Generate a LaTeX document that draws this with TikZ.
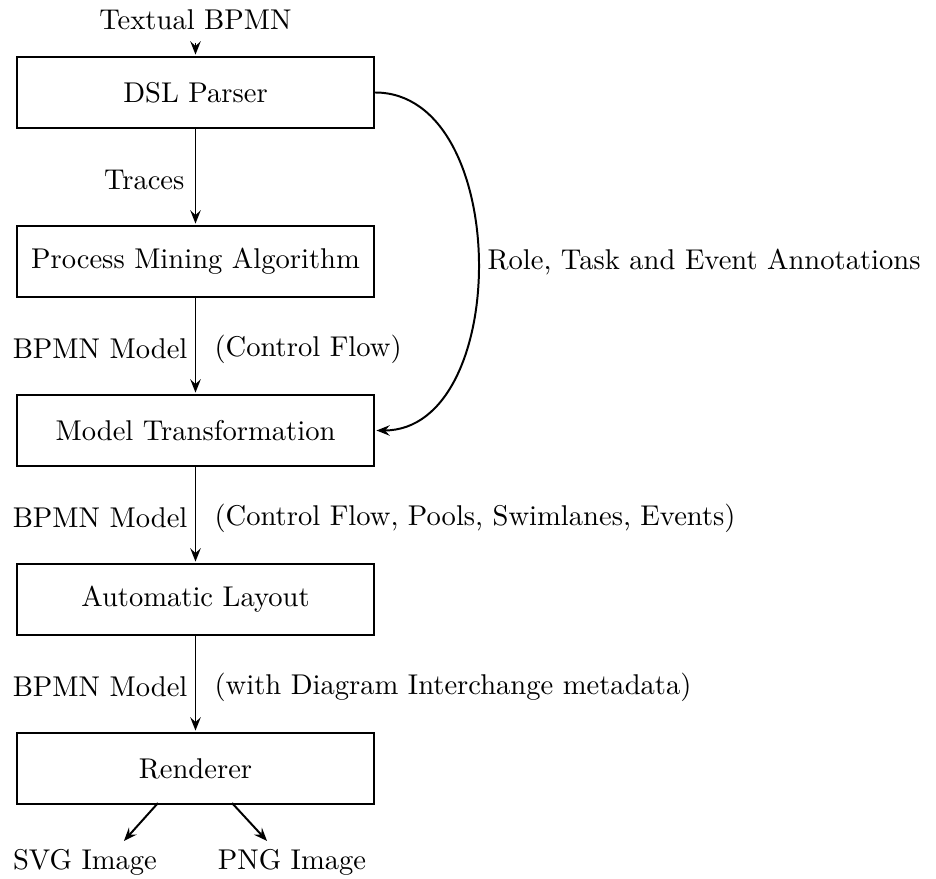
\documentclass[tikz,border=0pt]{standalone}
\usetikzlibrary{arrows.meta,calc}
\begin{document}
\begin{tikzpicture}[x=0.3534pt,y=-0.3534pt,
  every node/.style={font=\fontsize{10.1}{12}\selectfont},
  procbox/.style={draw,line width=0.7pt,minimum width=126.2pt,minimum height=25.1pt,inner sep=0pt},
  flow/.style={-{Stealth[length=4.7pt,width=3.7pt,inset=1.7pt]},line width=0.7pt,shorten >=0.5pt},
  lbl/.style={inner sep=0pt}]
\useasboundingbox (0,0) rectangle (936,879);
\node[lbl] (in) at (195.5,20) {Textual BPMN};
\node[procbox] (dsl) at (195.5,92.5) {DSL Parser};
\node[procbox] (pm) at (195.5,261.5) {Process Mining Algorithm};
\node[procbox] (mt) at (195.5,430.5) {Model Transformation};
\node[procbox] (al) at (195.5,599.5) {Automatic Layout};
\node[procbox] (rd) at (195.5,768.5) {Renderer};
\node[lbl] (svg) at (85,862) {SVG Image};
\node[lbl] (png) at (292,862) {PNG Image};

\node[lbl,anchor=east] (l1) at (185,180) {Traces};
\node[lbl,anchor=east] (l2) at (188,349) {BPMN Model};
\node[lbl,anchor=west] (r2) at (214,349) {(Control Flow)};
\node[lbl,anchor=east] (l3) at (188,518) {BPMN Model};
\node[lbl,anchor=west] (r3) at (214,518) {(Control Flow, Pools, Swimlanes, Events)};
\node[lbl,anchor=east] (l4) at (188,687) {BPMN Model};
\node[lbl,anchor=west] (r4) at (214,687) {(with Diagram Interchange metadata)};
\node[lbl,anchor=west] (ann) at (487,262) {Role, Task and Event Annotations};

\draw[flow] ($(in.south)+(0,12)$) -- (dsl.north);
\draw[flow] (dsl) -- (pm);
\draw[flow] (pm) -- (mt);
\draw[flow] (mt) -- (al);
\draw[flow] (al) -- (rd);
\draw[flow] (dsl.east) to[out=0,in=0,looseness=1.04] (mt.east);

\coordinate (rs1) at (158,803);
\coordinate (rs2) at (232,803);
\coordinate (se) at (123,842);
\coordinate (pe) at (268,842);
\draw[flow] (rs1) -- (se);
\draw[flow] (rs2) -- (pe);
\end{tikzpicture}
\end{document}
